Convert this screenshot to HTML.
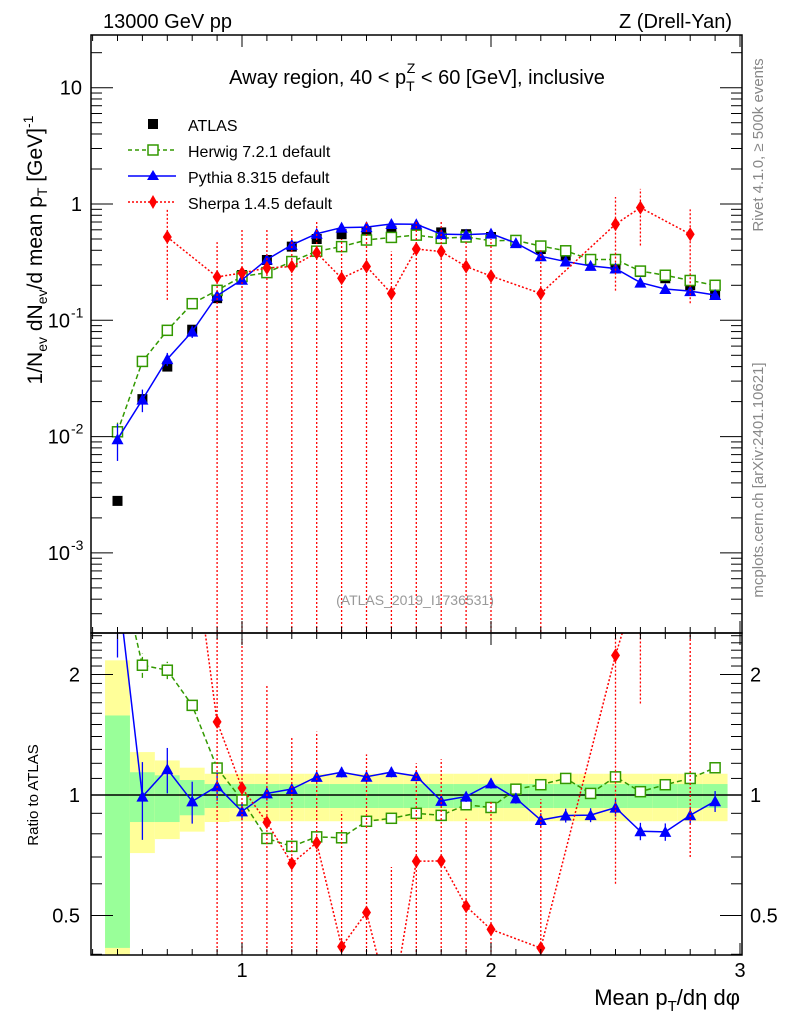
<!DOCTYPE html>
<html><head><meta charset="utf-8"><style>
html,body{margin:0;background:#fff;overflow:hidden;width:786px;height:1024px;}
svg{display:block;font-family:"Liberation Sans",sans-serif;overflow:hidden;}
</style></head><body>
<svg id="c" width="786" height="1024" viewBox="0 0 786 1024" xmlns="http://www.w3.org/2000/svg">
<defs>
<clipPath id="cm"><rect x="91" y="35" width="651" height="598"/></clipPath>
<clipPath id="cr"><rect x="91" y="633" width="651" height="322"/></clipPath>
</defs>
<g id="bands" clip-path="url(#cr)"></g>
<g id="marks"></g>
<rect x="91" y="35" width="651" height="598" fill="none" stroke="#000" stroke-width="1.5"/>
<rect x="91" y="633" width="651" height="322" fill="none" stroke="#000" stroke-width="1.5"/>
<g id="axes"></g>
<text x="103" y="28" font-size="20">13000 GeV pp</text>
<text x="732" y="28" font-size="20" text-anchor="end">Z (Drell-Yan)</text>
<text x="417" y="84" font-size="20" text-anchor="middle">Away region, 40 &lt; p<tspan font-size="14" dy="7">T</tspan><tspan font-size="14" dx="-8" dy="-18">Z</tspan><tspan dy="11"> &lt; 60 [GeV], inclusive</tspan></text>
<g>
<rect x="148" y="119" width="10" height="10" fill="#000"/>
<text x="188" y="131" font-size="16">ATLAS</text>
<line x1="128" y1="150" x2="176" y2="150" stroke="#339900" stroke-width="1.5" stroke-dasharray="4,3"/>
<rect x="148" y="145" width="10" height="10" fill="#fff" stroke="#339900" stroke-width="1.5"/>
<text x="188" y="157" font-size="16">Herwig 7.2.1 default</text>
<line x1="128" y1="176" x2="176" y2="176" stroke="#0000ff" stroke-width="1.5"/>
<path d="M153,170 L159,180 L147,180 Z" fill="#0000ff"/>
<text x="188" y="183" font-size="16">Pythia 8.315 default</text>
<line x1="128" y1="202" x2="176" y2="202" stroke="#ff0000" stroke-width="1.5" stroke-dasharray="2,2"/>
<path d="M153,195 L157,202 L153,209 L149,202 Z" fill="#ff0000"/>
<text x="188" y="209" font-size="16">Sherpa 1.4.5 default</text>
</g>
<text x="415" y="605" font-size="14" fill="#999" text-anchor="middle">(ATLAS_2019_I1736531)</text>
<text transform="translate(763,145) rotate(-90)" font-size="15" fill="#888" text-anchor="middle">Rivet 4.1.0, ≥ 500k events</text>
<text transform="translate(763,480) rotate(-90)" font-size="15" fill="#888" text-anchor="middle">mcplots.cern.ch [arXiv:2401.10621]</text>
<text transform="translate(42,250) rotate(-90)" font-size="21" text-anchor="middle">1/N<tspan font-size="14" dy="5">ev</tspan><tspan dy="-5"> dN</tspan><tspan font-size="14" dy="5">ev</tspan><tspan dy="-5">/d mean p</tspan><tspan font-size="14" dy="5">T</tspan><tspan dy="-5"> [GeV]</tspan><tspan font-size="14" dy="-9">-1</tspan></text>
<text transform="translate(38,795) rotate(-90)" font-size="15" text-anchor="middle">Ratio to ATLAS</text>
<text x="740" y="1005" font-size="22" text-anchor="end">Mean p<tspan font-size="15" dy="6">T</tspan><tspan dy="-6">/dη dφ</tspan></text>
</svg>
<script>
var xs=[0.5,0.6,0.7,0.8,0.9,1.0,1.1,1.2,1.3,1.4,1.5,1.6,1.7,1.8,1.9,2.0,2.1,2.2,2.3,2.4,2.5,2.6,2.7,2.8,2.9];
var atlas=[0.0028,0.021,0.040,0.083,0.155,0.245,0.33,0.43,0.50,0.55,0.57,0.59,0.60,0.57,0.55,0.52,0.47,0.41,0.36,0.33,0.30,0.26,0.23,0.20,0.171];
var herwig=[0.011,0.0443,0.082,0.139,0.181,0.238,0.257,0.32,0.393,0.43,0.49,0.516,0.54,0.507,0.52,0.484,0.486,0.435,0.396,0.333,0.333,0.265,0.244,0.22,0.2];
var herwigRelErr=[0.2,0.07,0.05,0.03,0.02,0.02,0.02,0.02,0.02,0.02,0.02,0.02,0.02,0.02,0.02,0.02,0.02,0.02,0.02,0.02,0.03,0.03,0.03,0.03,0.03];
var pythia=[0.0095,0.0208,0.0464,0.080,0.163,0.223,0.333,0.445,0.555,0.627,0.633,0.673,0.669,0.551,0.545,0.556,0.461,0.355,0.32,0.294,0.279,0.211,0.186,0.178,0.165];
var pythiaRelErr=[0.35,0.22,0.13,0.12,0.08,0.05,0.04,0.03,0.03,0.03,0.03,0.03,0.03,0.03,0.03,0.03,0.03,0.04,0.04,0.04,0.05,0.05,0.05,0.05,0.06];
var sherpa=[null,null,0.52,null,0.236,0.255,0.282,0.29,0.38,0.23,0.29,0.17,0.41,0.39,0.29,0.24,null,0.17,null,null,0.67,0.93,null,0.55,null];
var sherpaUp=[null,null,0.92,null,0.47,0.6,0.62,0.6,0.72,0.5,0.72,0.39,0.72,0.7,0.48,0.5,null,0.4,null,null,1.15,1.35,null,0.9,null];
var sherpaLo=[null,null,0.15,null,0,0,0,0,0,0,0,0,0,0,0,0,null,0,null,null,0.18,0.44,null,0.14,null];
var statUp=[1.58,1.14,1.12,1.09,1.065,1.065,1.065,1.065,1.065,1.065,1.065,1.065,1.065,1.065,1.065,1.065,1.065,1.065,1.065,1.065,1.065,1.065,1.065,1.065,1.065];
var statDn=[0.415,0.856,0.856,0.89,0.928,0.928,0.928,0.928,0.928,0.928,0.928,0.928,0.928,0.928,0.928,0.928,0.928,0.928,0.928,0.928,0.928,0.928,0.928,0.928,0.928];
var totUp=[2.17,1.28,1.22,1.17,1.13,1.13,1.13,1.13,1.13,1.13,1.13,1.13,1.13,1.13,1.13,1.13,1.13,1.13,1.13,1.13,1.13,1.13,1.13,1.13,1.13];
var totDn=[0.3,0.716,0.776,0.81,0.856,0.86,0.86,0.86,0.86,0.86,0.86,0.86,0.86,0.86,0.86,0.86,0.86,0.86,0.86,0.86,0.86,0.86,0.86,0.86,0.86];
var xTicks=[1,2,3];
var yMainTicks=[10,1,0.1,0.01,0.001];
var yMainLabels=["10","1","10","10","10"];
var yMainExp=["","","-1","-2","-3"];
var yRatioTicks=[2,1,0.5];

var NS="http://www.w3.org/2000/svg";
function X(v){return 92.6+(v-0.4)*249;}
function YM(v){return 204-Math.log10(v)*116.3;}
function YR(v){return 795-Math.log2(v)*120.5;}
function el(tag,attrs,parent){var e=document.createElementNS(NS,tag);for(var k in attrs)e.setAttribute(k,attrs[k]);parent.appendChild(e);return e;}
var axes=document.getElementById('axes');
var marks=document.getElementById('marks');
var bands=document.getElementById('bands');
var gm=el('g',{'clip-path':'url(#cm)'},marks);


var gr=el('g',{'clip-path':'url(#cr)'},marks);



for(var i=0;i<xs.length;i++){
  var x0=X(xs[i]-0.05),x1=X(xs[i]+0.05);
  var b=el('rect',{x:x0,y:YR(totUp[i]),width:x1-x0,height:Math.min(YR(totDn[i]),960)-YR(totUp[i]),fill:'#ffff99'},bands);
  
  
  var g=el('rect',{x:x0,y:YR(statUp[i]),width:x1-x0,height:Math.min(YR(statDn[i]),960)-YR(statUp[i]),fill:'#99ff99'},bands);
  
  
}
var ref=el('line',{x1:91,x2:742,y1:YR(1),y2:YR(1),stroke:'#000','stroke-width':1.5},gr);



[[633,0],[955,1]].forEach(function(p){
  for(var t=0.4;t<=3.001;t+=0.1){
    var big=Math.abs(t-Math.round(t))<0.01;
    var L=big?12:6;
    el('line',{x1:X(t),x2:X(t),y1:p[0],y2:p[0]-L,stroke:'#000'},axes);
    el('line',{x1:X(t),x2:X(t),y1:(p[1]?633:35),y2:(p[1]?633:35)+L,stroke:'#000'},axes);
  }
});
xTicks.forEach(function(t){
  var tx=el('text',{x:X(t),y:977,'font-size':20,'text-anchor':'middle'},axes);
  tx.textContent=t;
  
  
});
for(var d=-4;d<=1;d++){
  for(var m=1;m<10;m++){
    var v=m*Math.pow(10,d);var y=YM(v);
    if(y<35||y>633)continue;
    var L=m==1?22:11;
    el('line',{x1:91,x2:91+L,y1:y,y2:y,stroke:'#000'},axes);
    el('line',{x1:742,x2:742-L,y1:y,y2:y,stroke:'#000'},axes);
  }
}
yMainTicks.forEach(function(t,i){
  var tx=el('text',{x:yMainExp[i]?70:82,y:YM(t)+7,'font-size':20,'text-anchor':'end'},axes);
  tx.textContent=yMainLabels[i];
  
  
  if(yMainExp[i]){
    var s=el('text',{x:71,y:YM(t)-3,'font-size':14},axes);
    s.textContent=yMainExp[i];
    
    
  }
});
for(var r=0.4;r<=2.55;r+=0.1){
  var y=YR(r); if(y<633||y>955)continue;
  var big=[0.5,1,2].some(function(q){return Math.abs(q-r)<0.01;});
  var L=big?22:11;
  el('line',{x1:91,x2:91+L,y1:y,y2:y,stroke:'#000'},axes);
  el('line',{x1:742,x2:742-L,y1:y,y2:y,stroke:'#000'},axes);
}
yRatioTicks.forEach(function(t){
  var a=el('text',{x:80,y:YR(t)+7,'font-size':20,'text-anchor':'end'},axes);a.textContent=t;
  
  
  var b=el('text',{x:750,y:YR(t)+7,'font-size':20},axes);b.textContent=t;
  
  
});

function marker(kind,x,y,col,parent){
  var e;
  if(kind=='sq')e=el('rect',{x:x-5,y:y-5,width:10,height:10,fill:'#fff',stroke:col,'stroke-width':1.5},parent);
  else if(kind=='fsq')e=el('rect',{x:x-5,y:y-5,width:10,height:10,fill:col},parent);
  else if(kind=='tri')e=el('path',{d:'M'+x+','+(y-6)+' L'+(x+6)+','+(y+5)+' L'+(x-6)+','+(y+5)+' Z',fill:col},parent);
  else e=el('path',{d:'M'+x+','+(y-7)+' L'+(x+4.5)+','+y+' L'+x+','+(y+7)+' L'+(x-4.5)+','+y+' Z',fill:col},parent);
  return e;
}
function series(vals,lo,hi,col,dash,kind,name,Yf,parent,ratio){
  var pts=[];
  for(var i=0;i<xs.length;i++){
    if(vals[i]==null)continue;
    var v=ratio?vals[i]/atlas[i]:vals[i];
    var l=ratio?lo[i]/atlas[i]:lo[i], h=ratio?hi[i]/atlas[i]:hi[i];
    pts.push(X(xs[i])+','+Yf(v));
    var yl=l>0?Math.min(Yf(l),1000):1000;
    var eb=el('line',{x1:X(xs[i]),x2:X(xs[i]),y1:yl,y2:Math.max(Yf(h),0),stroke:col,'stroke-width':1.3,'stroke-dasharray':dash||'none'},parent);
    
    
  }
  var pl=el('polyline',{points:pts.join(' '),fill:'none',stroke:col,'stroke-width':1.5,'stroke-dasharray':dash||'none'},parent);
  
  
  for(var i=0;i<xs.length;i++){
    if(vals[i]==null)continue;
    var v=ratio?vals[i]/atlas[i]:vals[i];
    var mk=marker(kind,X(xs[i]),Yf(v),col,parent);
    
    
  }
}
function lohi(vals,rel){return [vals.map(function(v,i){return v==null?null:v*(1-rel[i]);}),vals.map(function(v,i){return v==null?null:v*(1+rel[i]);})];}
var hw=lohi(herwig,herwigRelErr), py=lohi(pythia,pythiaRelErr);
for(var i=0;i<xs.length;i++){
  var mk=marker('fsq',X(xs[i]),YM(atlas[i]),'#000',gm);
  
  
}
series(herwig,hw[0],hw[1],'#339900','5,3','sq','herwig',YM,gm,false);
series(pythia,py[0],py[1],'#0000ff',null,'tri','pythia',YM,gm,false);
series(sherpa,sherpaLo,sherpaUp,'#ff0000','2,2','dia','sherpa',YM,gm,false);
series(herwig,hw[0],hw[1],'#339900','5,3','sq','herwig-ratio',YR,gr,true);
series(pythia,py[0],py[1],'#0000ff',null,'tri','pythia-ratio',YR,gr,true);
series(sherpa,sherpaLo,sherpaUp,'#ff0000','2,2','dia','sherpa-ratio',YR,gr,true);
</script>
</body></html>
